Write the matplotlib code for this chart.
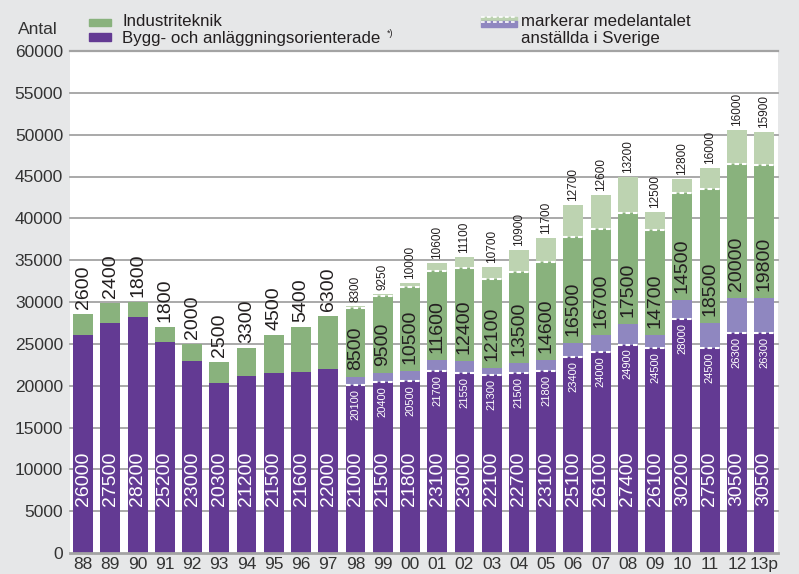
import matplotlib
matplotlib.use("Agg")
import matplotlib.pyplot as plt
from matplotlib.patches import Rectangle
from matplotlib.lines import Line2D

plt.rcParams["font.family"] = ["Liberation Sans", "DejaVu Sans"]

years = ["88", "89", "90", "91", "92", "93", "94", "95", "96", "97", "98", "99", "00",
         "01", "02", "03", "04", "05", "06", "07", "08", "09", "10", "11", "12", "13p"]
bygg = [26000, 27500, 28200, 25200, 23000, 20300, 21200, 21500, 21600, 22000, 21000, 21500, 21800,
        23100, 23000, 22100, 22700, 23100, 25100, 26100, 27400, 26100, 30200, 27500, 30500, 30500]
industri = [2600, 2400, 1800, 1800, 2000, 2500, 3300, 4500, 5400, 6300, 8500, 9500, 10500,
            11600, 12400, 12100, 13500, 14600, 16500, 16700, 17500, 14700, 14500, 18500, 20000, 19800]
# medelantal anställda i Sverige, från 98
bygg_medel = [None] * 10 + [20100, 20400, 20500, 21700, 21550, 21300, 21500, 21800,
                            23400, 24000, 24900, 24500, 28000, 24500, 26300, 26300]
industri_medel = [None] * 10 + [8300, 9250, 10000, 10600, 11100, 10700, 10900, 11700,
                                12700, 12600, 13200, 12500, 12800, 16000, 16000, 15900]

PURPLE = "#633a93"
PURPLE_L = "#8f87c0"
GREEN = "#89b27d"
GREEN_L = "#bdd3b1"
BG = "#e6e7e8"
GRID = "#a3a3a3"
TXT = "#231f20"

W, H = 799, 574
fig = plt.figure(figsize=(W / 100, H / 100), dpi=100, facecolor=BG)


def fx(px):
    return px / W


def fy(py):
    return 1 - py / H


ax = fig.add_axes([fx(70), fy(553), fx(778) - fx(70), fy(51) - fy(553)])
ax.set_facecolor("white")
ax.set_xlim(-0.48, len(years) - 0.49)
ax.set_ylim(0, 60000)
for s in ["top", "right", "left"]:
    ax.spines[s].set_visible(False)
ax.spines["bottom"].set_color(GRID)
ax.spines["bottom"].set_linewidth(2)

yt = list(range(0, 60001, 5000))
for v in yt[1:]:
    ax.axhline(v, color=GRID, lw=1.6 if v == 60000 else 1.3, zorder=0, clip_on=False)
ax.set_yticks(yt)
ax.set_yticklabels([str(v) for v in yt], fontsize=12.5, color="#333333")
ax.set_xticks(range(len(years)))
ax.set_xticklabels(years, fontsize=12.5, color="#333333")
ax.tick_params(length=0)
ax.tick_params(axis="y", pad=5)
ax.tick_params(axis="x", pad=3)

bw = 0.73
x = list(range(len(years)))

for i in x:
    b, ind = bygg[i], industri[i]
    bm, im = bygg_medel[i], industri_medel[i]
    if bm is None:
        ax.bar(i, b, bw, color=PURPLE, zorder=2)
        ax.bar(i, ind, bw, bottom=b, color=GREEN, zorder=2)
        ax.annotate(str(ind), (i, b + ind), xytext=(0, 5), textcoords="offset pixels",
                    rotation=90, ha="center", va="bottom", fontsize=14, color=TXT)
    else:
        ax.bar(i, bm, bw, color=PURPLE, zorder=2)
        ax.bar(i, b - bm, bw, bottom=bm, color=PURPLE_L, zorder=2)
        ax.bar(i, im, bw, bottom=b, color=GREEN, zorder=2)
        ax.bar(i, ind - im, bw, bottom=b + im, color=GREEN_L, zorder=2)
        for lv in (bm, b + im):
            ax.plot([i - bw / 2, i + bw / 2], [lv, lv], color="white", lw=1.5,
                    ls=(0, (2.2, 1.4)), zorder=3, solid_capstyle="butt")
        ax.annotate(str(ind), (i, b), xytext=(0, 7), textcoords="offset pixels",
                    rotation=90, ha="center", va="bottom", fontsize=14, color=TXT, zorder=4)
        ax.annotate(str(im), (i, b + ind), xytext=(0, 4), textcoords="offset pixels",
                    rotation=90, ha="center", va="bottom", fontsize=8.5, color=TXT)
        ax.annotate(str(bm), (i, bm), xytext=(0, -4), textcoords="offset pixels",
                    rotation=90, ha="center", va="top", fontsize=8, color="white", zorder=4)
    ax.text(i, 5600, str(b), rotation=90, ha="center", va="bottom", fontsize=14,
            color="white", zorder=4)

# header texts and legend
fig.text(fx(18), fy(29), "Antal", fontsize=12.5, color="#333333", va="center", ha="left")
fig.patches.append(Rectangle((fx(89), fy(26)), fx(22), fy(19) - fy(26), transform=fig.transFigure,
                             color=GREEN, figure=fig))
fig.patches.append(Rectangle((fx(89), fy(41)), fx(22), fy(33) - fy(41), transform=fig.transFigure,
                             color=PURPLE, figure=fig))
fig.text(fx(122), fy(21), "Industriteknik", fontsize=12.2, color=TXT, va="center")
fig.text(fx(122), fy(39), "Bygg- och anläggningsorienterade", fontsize=12.2, color=TXT, va="center")
fig.text(fx(387), fy(33), "*)", fontsize=6.5, color=TXT, va="center")

fig.patches.append(Rectangle((fx(481), fy(21.5)), fx(36), fy(16.5) - fy(21.5), transform=fig.transFigure,
                             color=GREEN_L, figure=fig))
fig.patches.append(Rectangle((fx(481), fy(26.5)), fx(36), fy(21.5) - fy(26.5), transform=fig.transFigure,
                             color=PURPLE_L, figure=fig))
for yy in (17, 22):
    fig.lines.append(Line2D([fx(481), fx(517)], [fy(yy), fy(yy)], transform=fig.transFigure,
                            color="white", lw=1.2, ls=(0, (2.2, 1.4)), figure=fig))
fig.text(fx(521), fy(21), "markerar medelantalet", fontsize=12.2, color=TXT, va="center")
fig.text(fx(521), fy(39), "anställda i Sverige", fontsize=12.2, color=TXT, va="center")

fig.savefig("out.png", dpi=100, facecolor=BG)
